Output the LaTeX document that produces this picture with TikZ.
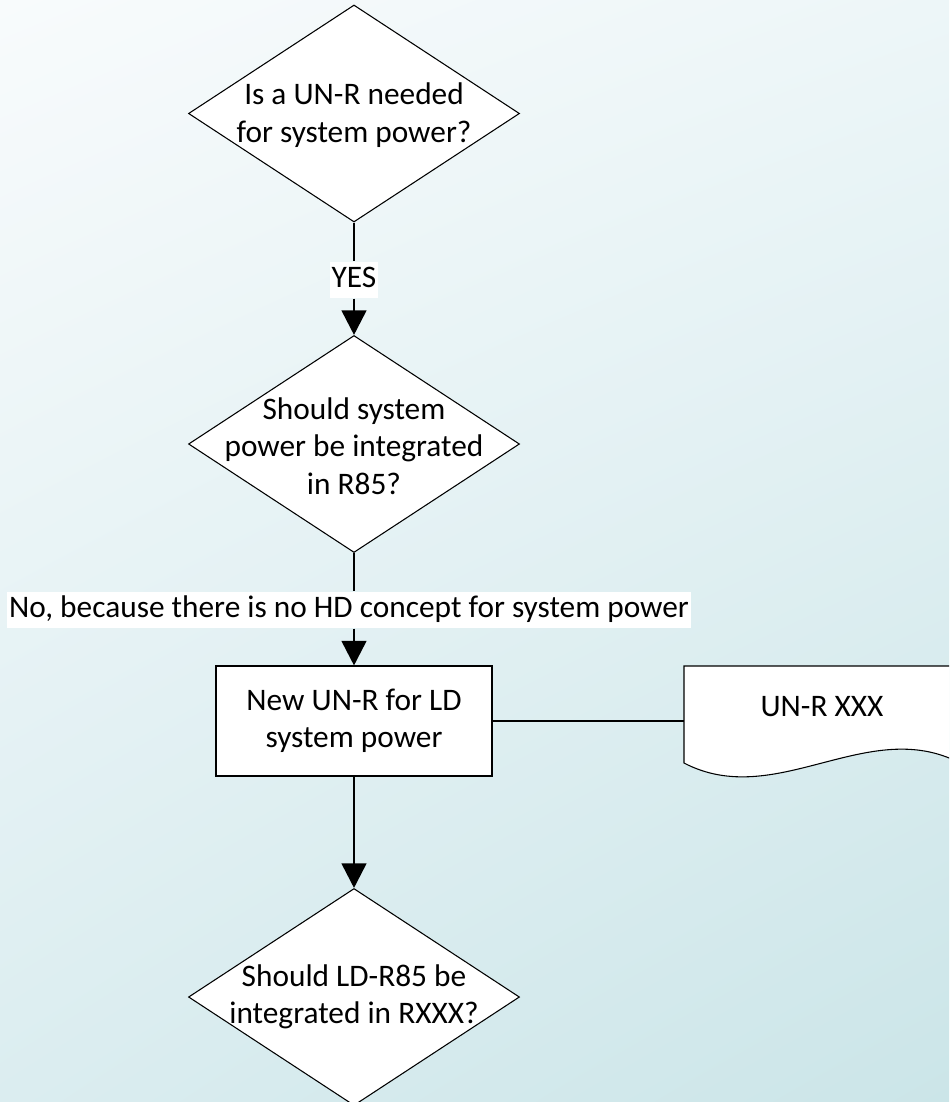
\documentclass[tikz,border=0pt]{standalone}
\usepackage{fontspec}
\setmainfont{Carlito}
\usetikzlibrary{shapes.geometric,arrows.meta,shadings,calc}
\definecolor{bgul}{RGB}{248,251,252}
\definecolor{bgur}{RGB}{237,246,248}
\definecolor{bgll}{RGB}{219,237,240}
\definecolor{bglr}{RGB}{203,229,232}
\begin{document}
\begin{tikzpicture}[x=0.75pt,y=-0.75pt,
  every node/.style={font=\fontsize{23.5}{28}\selectfont, align=center},
  decision/.style={diamond, draw=black, line width=0.8pt, fill=white, inner sep=0pt,
     minimum width=248.25pt, minimum height=162.75pt},
  procbox/.style={rectangle, draw=black, line width=0.8pt, fill=white,
     minimum width=207pt, minimum height=82.5pt},
  conn/.style={line width=2pt, draw=black},
  arr/.style={conn, -{Triangle[length=18.5pt,width=18.5pt]}},
  tag/.style={rectangle, fill=white, draw=none, inner xsep=1.5pt, inner ysep=2.5pt,
     text height=17pt, text depth=5.5pt}
]
\useasboundingbox (0,0) rectangle (949,1102);
\clip (0,0) rectangle (949,1102);
\shade[upper left=bgul, upper right=bgur, lower left=bgll, lower right=bglr]
  (0,0) rectangle (949,1102);

\node[decision] (d1) at (354,113.5) {};
\node (t1) at (354,115) {Is a UN-R needed\\for system power?};

\node[decision] (d2) at (354,444) {};
\node (t2) at (354,446) {Should system\\power be integrated\\in R85?};

\node[procbox] (box) at (354,721) {};
\node (tb) at (354,721) {New UN-R for LD\\system power};

\node[decision] (d3) at (354,997) {};
\node (t3) at (354,997) {Should LD-R85 be\\integrated in RXXX?};

% document shape (clipped at right edge)
\draw[line width=0.8pt, fill=white]
  (684,666) -- (960,666) -- (960,763)
  .. controls (868,715) and (776,811) .. (684,763) -- cycle;
\coordinate (docL) at (684,721);
\node (doc) at (822,707) {UN-R XXX};

% connector labels
\node[tag] (yes) at (354,280) {YES};
\node[tag] (no) at (349,610) {No, because there is no HD concept for system power};

% connectors
\draw[conn] (d1.south) -- (yes.north);
\draw[arr] (yes.south) -- (d2.north);
\draw[conn] (d2.south) -- (d2.south |- no.north);
\draw[arr] (box.north |- no.south) -- (box.north);
\draw[conn] (box.east) -- (docL);
\draw[arr] (box.south) -- (d3.north);
\end{tikzpicture}
\end{document}
